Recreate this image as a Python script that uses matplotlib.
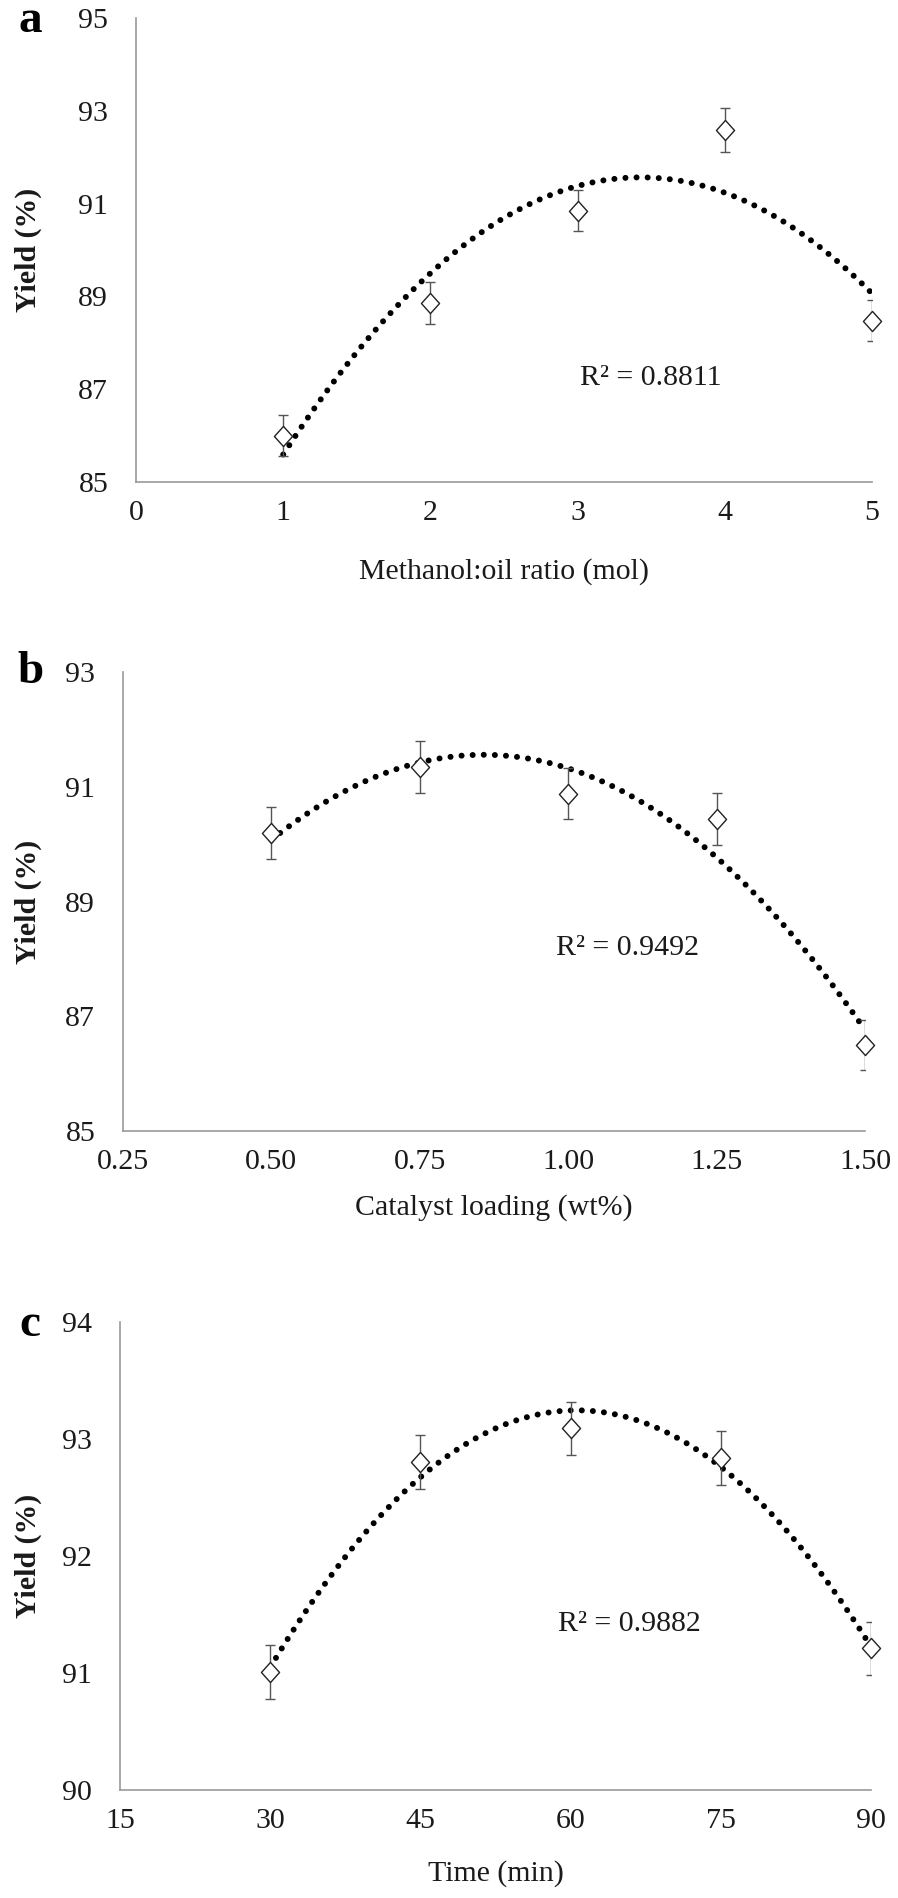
import numpy as np
import matplotlib
matplotlib.use("Agg")
import matplotlib.pyplot as plt
from matplotlib.path import Path

plt.rcParams['font.family'] = ['Liberation Serif', 'DejaVu Serif']

# panel a: methanol:oil ratio
ratio = [1, 2, 3, 4, 5]
ratio_yield = [86.0, 88.86, 90.85, 92.58, 88.48]
ratio_err = [0.44, 0.45, 0.45, 0.47, 0.45]

# panel b: catalyst loading
loading = [0.50, 0.75, 1.00, 1.25, 1.50]
loading_yield = [90.19, 91.34, 90.88, 90.44, 86.50]
loading_err = [0.45, 0.45, 0.45, 0.45, 0.43]

# panel c: time
time_min = [30, 45, 60, 75, 90]
time_yield = [91.01, 92.80, 93.09, 92.84, 91.21]
time_err = [0.23, 0.23, 0.23, 0.23, 0.23]

r2_labels = ["R\u00b2 = 0.8811", "R\u00b2 = 0.9492", "R\u00b2 = 0.9882"]

# slightly tall diamond marker
diamond = Path([(0, 1), (0.9, 0), (0, -1), (-0.9, 0), (0, 1)],
               [Path.MOVETO, Path.LINETO, Path.LINETO, Path.LINETO, Path.CLOSEPOLY])

fig = plt.figure(figsize=(8.98, 18.98), dpi=100)
W, H = 898, 1898
FS = 21.5


def make_axes(l, r, t, b):
    return fig.add_axes([l / W, 1 - b / H, (r - l) / W, (b - t) / H])


panels = [
    dict(box=(136, 872, 18, 482), x=ratio, y=ratio_yield, e=ratio_err,
         xlim=(0, 5), xticks=np.arange(0, 6, 1), xfmt="{:.0f}",
         ylim=(85, 95), yticks=np.arange(85, 96, 2),
         xlabel="Methanol:oil ratio (mol)", xl_off=90, tag="a", tag_y=21,
         r2pos=(3.50, 87.24)),
    dict(box=(123, 865, 672, 1131), x=loading, y=loading_yield, e=loading_err,
         xlim=(0.25, 1.5), xticks=np.arange(0.25, 1.51, 0.25), xfmt="{:.2f}",
         ylim=(85, 93), yticks=np.arange(85, 94, 2),
         xlabel="Catalyst loading (wt%)", xl_off=77, tag="b", tag_y=672,
         r2pos=(1.10, 88.19)),
    dict(box=(120, 871, 1322, 1790), x=time_min, y=time_yield, e=time_err,
         xlim=(15, 90), xticks=np.arange(15, 91, 15), xfmt="{:.0f}",
         ylim=(90, 94), yticks=np.arange(90, 95, 1),
         xlabel="Time (min)", xl_off=84, tag="c", tag_y=1325,
         r2pos=(65.9, 91.42)),
]

for p, r2 in zip(panels, r2_labels):
    l, r, t, b = p["box"]
    ax = make_axes(l, r, t, b)
    x = np.array(p["x"], dtype=float)
    y = np.array(p["y"], dtype=float)

    # quadratic trendline (Excel-style polynomial fit)
    coef = np.polyfit(x, y, 2)
    xs = np.linspace(x.min(), x.max(), 300)
    ax.plot(xs, np.polyval(coef, xs), color="black", lw=4.3,
            linestyle=(0, (0.01, 1.85)), dash_capstyle="round", zorder=2)

    ax.errorbar(x, y, yerr=p["e"], fmt="none", ecolor="#555555",
                elinewidth=1.0, capsize=3.8, capthick=1.0, zorder=3)
    ax.plot(x, y, linestyle="none", marker=diamond, markersize=14.5,
            markerfacecolor="white", markeredgecolor="#222222",
            markeredgewidth=1.0, zorder=4, clip_on=False)

    ax.set_xlim(*p["xlim"])
    ax.set_ylim(*p["ylim"])
    ax.set_xticks(p["xticks"])
    ax.set_xticklabels([p["xfmt"].format(v) for v in p["xticks"]])
    ax.set_yticks(p["yticks"])
    ax.tick_params(length=0, labelsize=FS, colors="#1a1a1a")
    ax.tick_params(axis="y", pad=20)
    ax.tick_params(axis="x", pad=13)

    for s in ["top", "right"]:
        ax.spines[s].set_visible(False)
    for s in ["left", "bottom"]:
        ax.spines[s].set_color("#999999")
        ax.spines[s].set_linewidth(1.2)

    ax.set_xlabel(p["xlabel"], fontsize=FS, color="#1a1a1a", va="center")
    ax.xaxis.set_label_coords(0.5, -p["xl_off"] / (b - t))
    ax.set_ylabel("Yield (%)", fontsize=FS, fontweight="bold", color="#1a1a1a", va="center")
    ax.yaxis.set_label_coords(-(l - 28) / (r - l), 0.5)

    ax.text(p["r2pos"][0], p["r2pos"][1], r2, fontsize=FS, ha="center",
            va="center", color="#1a1a1a")
    fig.text(30 / W, 1 - p["tag_y"] / H, p["tag"], fontsize=34, fontweight="bold",
             ha="center", va="center")

fig.savefig("out.png", dpi=100)
